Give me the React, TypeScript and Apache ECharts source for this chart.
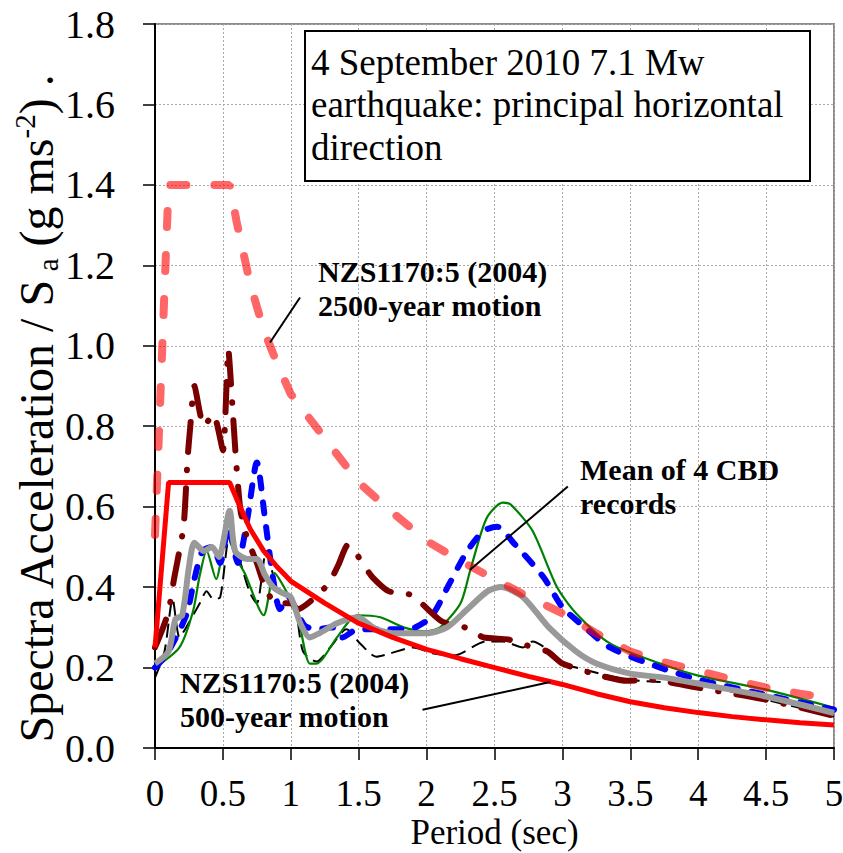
import React, { useEffect, useRef } from "react";
import * as echarts from "echarts";

const FONT = "Liberation Serif, Times New Roman, serif";

// axis ticks
const X_MIN = 0, X_MAX = 5, X_STEP = 0.5;
const Y_MIN = 0, Y_MAX = 1.8, Y_STEP = 0.2;

// NZS1170:5 (2004) 500-year design spectrum
const nzs500: [number, number][] = [
  [0, 0.25], [0.1, 0.66], [0.55, 0.66], [0.6, 0.62], [0.7, 0.545], [0.8, 0.49], [0.9, 0.45],
  [1.0, 0.415], [1.25, 0.36], [1.5, 0.31], [1.75, 0.275], [2.0, 0.245], [2.25, 0.222], [2.5, 0.2],
  [2.75, 0.178], [3.0, 0.158], [3.25, 0.135], [3.5, 0.115], [3.75, 0.1], [4.0, 0.088], [4.25, 0.078],
  [4.5, 0.07], [4.75, 0.063], [5.0, 0.057],
];

// NZS1170:5 (2004) 2500-year design spectrum
const nzs2500: [number, number][] = [
  [0, 0.53], [0.1, 1.4], [0.55, 1.4], [0.6, 1.31], [0.7, 1.155], [0.8, 1.04], [0.9, 0.955],
  [1.0, 0.88], [1.25, 0.77], [1.5, 0.66], [1.75, 0.585], [2.0, 0.515], [2.25, 0.465], [2.5, 0.42],
  [2.75, 0.375], [3.0, 0.335], [3.25, 0.285], [3.5, 0.24], [3.75, 0.213], [4.0, 0.192], [4.25, 0.17],
  [4.5, 0.15], [4.75, 0.135], [5.0, 0.122],
];

// record 1 (thin black dashed)
const recBlack: [number, number][] = [
  [0, 0.175], [0.07, 0.24], [0.13, 0.37], [0.18, 0.275], [0.23, 0.3], [0.33, 0.36], [0.38, 0.39],
  [0.43, 0.37], [0.48, 0.375], [0.55, 0.525], [0.62, 0.47], [0.7, 0.385], [0.75, 0.36], [0.82, 0.49],
  [0.9, 0.4], [1.02, 0.37], [1.09, 0.24], [1.19, 0.215], [1.29, 0.25], [1.41, 0.295], [1.51, 0.26],
  [1.63, 0.227], [1.73, 0.235], [1.9, 0.25], [2.05, 0.235], [2.2, 0.23], [2.44, 0.265], [2.56, 0.265],
  [2.71, 0.25], [2.78, 0.265], [2.89, 0.245], [3.0, 0.21], [3.1, 0.2], [3.48, 0.17], [4.0, 0.157],
  [4.5, 0.12], [5.0, 0.078],
];

// record 2 (green)
const recGreen: [number, number][] = [
  [0, 0.2], [0.18, 0.25], [0.28, 0.34], [0.33, 0.43], [0.38, 0.49], [0.45, 0.42], [0.53, 0.53],
  [0.6, 0.47], [0.66, 0.435], [0.8, 0.33], [0.88, 0.435], [0.99, 0.375], [1.05, 0.33], [1.14, 0.21],
  [1.19, 0.21], [1.34, 0.275], [1.49, 0.33], [1.66, 0.325], [1.83, 0.3], [2.0, 0.29], [2.1, 0.3],
  [2.25, 0.36], [2.32, 0.44], [2.44, 0.57], [2.56, 0.61], [2.62, 0.605], [2.78, 0.54], [2.96, 0.4],
  [3.1, 0.335], [3.35, 0.26], [3.72, 0.21], [4.0, 0.18], [4.5, 0.145], [5.0, 0.1],
];

// record 3 (blue dashed)
const recBlue: [number, number][] = [
  [0, 0.2], [0.09, 0.235], [0.23, 0.33], [0.29, 0.42], [0.35, 0.49], [0.42, 0.5], [0.48, 0.46],
  [0.54, 0.55], [0.61, 0.46], [0.68, 0.57], [0.75, 0.71], [0.81, 0.57], [0.87, 0.42], [0.92, 0.345],
  [0.98, 0.375], [1.1, 0.305], [1.19, 0.295], [1.31, 0.3], [1.38, 0.275], [1.49, 0.295], [1.66, 0.295],
  [1.86, 0.295], [2.03, 0.325], [2.17, 0.41], [2.3, 0.49], [2.42, 0.54], [2.52, 0.55], [2.64, 0.51],
  [2.86, 0.425], [3.0, 0.35], [3.13, 0.31], [3.35, 0.25], [3.72, 0.2], [4.0, 0.17], [4.5, 0.132],
  [5.0, 0.095],
];

// record 4 (dark red dash-dot)
const recMaroon: [number, number][] = [
  [0, 0.25], [0.06, 0.3], [0.1, 0.34], [0.14, 0.42], [0.21, 0.55], [0.24, 0.72], [0.26, 0.8],
  [0.29, 0.9], [0.36, 0.8], [0.43, 0.83], [0.5, 0.74], [0.54, 0.99], [0.57, 0.85], [0.6, 0.7],
  [0.63, 0.59], [0.68, 0.52], [0.75, 0.46], [0.8, 0.41], [0.86, 0.37], [0.95, 0.36], [1.0, 0.36],
  [1.05, 0.345], [1.27, 0.405], [1.35, 0.455], [1.42, 0.505], [1.6, 0.425], [1.72, 0.39],
  [1.89, 0.38], [2.11, 0.315], [2.28, 0.3], [2.42, 0.275], [2.6, 0.27], [2.74, 0.255], [2.89, 0.24],
  [3.0, 0.21], [3.28, 0.18], [3.48, 0.167], [3.65, 0.17], [3.96, 0.152], [4.5, 0.12], [5.0, 0.08],
];

// mean of 4 CBD records (grey)
const recMean: [number, number][] = [
  [0, 0.21], [0.1, 0.24], [0.15, 0.32], [0.2, 0.33], [0.25, 0.45], [0.29, 0.51], [0.36, 0.49],
  [0.42, 0.5], [0.47, 0.475], [0.55, 0.59], [0.59, 0.49], [0.68, 0.47], [0.75, 0.47], [0.81, 0.43],
  [0.87, 0.4], [0.94, 0.385], [1.0, 0.375], [1.07, 0.31], [1.14, 0.275], [1.21, 0.285], [1.34, 0.31],
  [1.49, 0.325], [1.63, 0.295], [1.78, 0.285], [2.0, 0.285], [2.15, 0.3], [2.3, 0.345], [2.45, 0.39],
  [2.55, 0.4], [2.71, 0.375], [2.9, 0.3], [3.1, 0.24], [3.25, 0.21], [3.5, 0.185], [3.75, 0.175],
  [4.0, 0.16], [4.5, 0.128], [5.0, 0.087],
];

// annotation texts and leader lines (data coordinates; "at" = centre of first line)
const titleLines = ["4 September 2010 7.1 Mw", "earthquake: principal horizontal", "direction"];
const annotations = [
  { lines: ["NZS1170:5 (2004)", "2500-year motion"], at: [1.2, 1.185], from: [1.068, 1.12], to: [0.847, 1.008] },
  { lines: ["Mean of 4 CBD", "records"], at: [3.13, 0.692], from: [3.04, 0.65], to: [2.32, 0.443] },
  { lines: ["NZS1170:5 (2004)", "500-year motion"], at: [0.184, 0.162], from: [1.97, 0.095], to: [2.91, 0.164] },
];

export default function App() {
  const ref = useRef<HTMLDivElement>(null);
  useEffect(() => {
    document.body.style.margin = "0";
    const chart = echarts.init(ref.current!, null, { renderer: "svg" });
    const line = (name: string, data: [number, number][], lineStyle: any, smooth: any, z: number) => ({
      name, type: "line", data, showSymbol: false, symbol: "none", smooth, z, lineStyle,
      emphasis: { disabled: true },
    });
    chart.setOption({
      animation: false,
      backgroundColor: "#fff",
      grid: {
        left: 155, right: 9, top: 24, bottom: 105, show: true, borderColor: "#8c8c8c", borderWidth: 2,
        containLabel: false, outerBoundsMode: "none",
      },
      xAxis: {
        type: "value", min: X_MIN, max: X_MAX, interval: X_STEP,
        name: "Period (sec)", nameLocation: "middle", nameGap: 69, nameMoveOverlap: false,
        nameTextStyle: { fontFamily: FONT, fontSize: 35, lineHeight: 30, color: "#000" },
        axisLine: { show: true, lineStyle: { color: "#000", width: 2 } },
        axisTick: { show: true, length: 12, lineStyle: { color: "#000", width: 1.5 } },
        axisLabel: { fontFamily: FONT, fontSize: 37, lineHeight: 30, color: "#000", margin: 30, formatter: (v: number) => String(v) },
        splitLine: { show: true, lineStyle: { color: "#aaaaaa", type: [2, 2], width: 1 } },
      },
      yAxis: {
        type: "value", min: Y_MIN, max: Y_MAX, interval: Y_STEP,
        axisLine: { show: true, lineStyle: { color: "#000", width: 2 } },
        axisTick: { show: true, length: 12, lineStyle: { color: "#000", width: 1.5 } },
        axisLabel: { fontFamily: FONT, fontSize: 40, color: "#000", margin: 40, formatter: (v: number) => v.toFixed(1) },
        splitLine: { show: true, lineStyle: { color: "#aaaaaa", type: [2, 2], width: 1 } },
      },
      series: [
        line("Record 1", recBlack, { color: "#000000", width: 2, type: [14, 7] }, 0.25, 2),
        line("Record 2", recGreen, { color: "#008000", width: 2.2 }, 0.25, 3),
        line("Record 3", recBlue, { color: "#0000ff", width: 6, type: [11, 14], cap: "round" }, 0.25, 4),
        line("Record 4", recMaroon, { color: "#7a0000", width: 6, type: [30, 18, 0.5, 18], cap: "round" }, 0.2, 5),
        line("Mean of 4 CBD records", recMean, { color: "#999999", width: 6 }, 0.25, 6),
        line("NZS1170:5 500-year", nzs500, { color: "#ff0000", width: 5 }, false, 7),
        line("NZS1170:5 2500-year", nzs2500, { color: "#ff0000", opacity: 0.6, width: 8, type: [16, 28], cap: "round" }, false, 8),
      ],
    });

    const px = (p: number[]) => chart.convertToPixel({ gridIndex: 0 }, p) as number[];
    const graphics: any[] = [
      {
        type: "rect", z: 100, shape: { x: 305, y: 31, width: 505, height: 150 },
        style: { fill: "#fff", stroke: "#000", lineWidth: 2 },
      },
      {
        type: "text", z: 101, x: 311, y: 41,
        style: { text: titleLines.join("\n"), fontFamily: FONT, fontSize: 37, lineHeight: 42.5, fill: "#000", align: "left", verticalAlign: "top" },
      },
      {
        type: "text", z: 101, x: 36, y: 409, rotation: Math.PI / 2,
        style: {
          text: "{n|Spectra Acceleration / S}{sub| a}{n| (g ms}{sup|-2}{n|) .}",
          align: "center", verticalAlign: "middle", fill: "#000",
          rich: {
            n: { fontFamily: FONT, fontSize: 48, fill: "#000", lineHeight: 52 },
            sub: { fontFamily: FONT, fontSize: 29, fill: "#000", verticalAlign: "bottom", lineHeight: 52 },
            sup: { fontFamily: FONT, fontSize: 29, fill: "#000", verticalAlign: "top", lineHeight: 52 },
          },
        },
      },
    ];
    annotations.forEach((a) => {
      const p = px(a.at);
      graphics.push({
        type: "text", z: 101, x: p[0], y: p[1] - 17,
        style: { text: a.lines.join("\n"), fontFamily: FONT, fontWeight: "bold", fontSize: 30, lineHeight: 34, fill: "#000", align: "left", verticalAlign: "top" },
      });
      const f = px(a.from), t = px(a.to);
      graphics.push({
        type: "line", z: 101, shape: { x1: f[0], y1: f[1], x2: t[0], y2: t[1] },
        style: { stroke: "#000", lineWidth: 2 },
      });
    });
    chart.setOption({ graphic: graphics });
    return () => chart.dispose();
  }, []);
  return <div ref={ref} style={{ width: 843, height: 853 }} />;
}
